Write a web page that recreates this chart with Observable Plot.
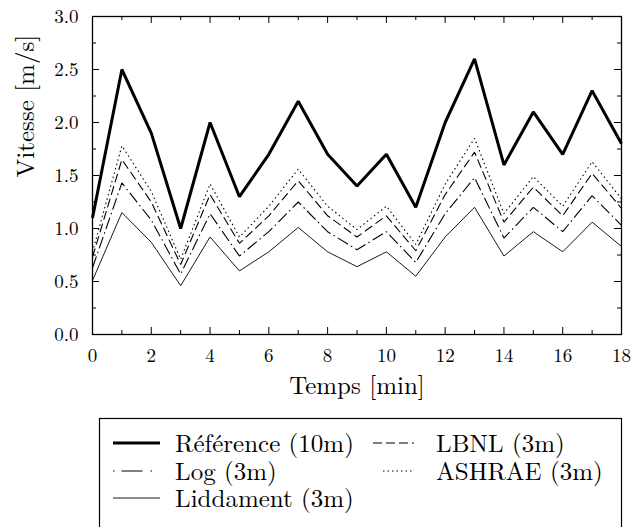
<!DOCTYPE html>
<html><head><meta charset="utf-8">
<script src="https://cdn.jsdelivr.net/npm/d3@7"></script>
<script src="https://cdn.jsdelivr.net/npm/@observablehq/plot@0.6"></script>
<style>
body{margin:0;background:#fff;}
#chart svg{display:block;}
</style></head><body><div id="chart"></div><script>
// ---- data ----
const temps      = [0,1,2,3,4,5,6,7,8,9,10,11,12,13,14,15,16,17,18];
const reference  = [1.10,2.50,1.90,1.00,2.00,1.30,1.70,2.20,1.70,1.40,1.70,1.20,2.00,2.60,1.60,2.10,1.70,2.30,1.80];
const lbnl       = [0.73,1.65,1.25,0.66,1.32,0.86,1.12,1.45,1.12,0.92,1.12,0.79,1.32,1.72,1.06,1.39,1.12,1.52,1.19];
const logLaw     = [0.63,1.43,1.08,0.57,1.14,0.74,0.97,1.25,0.97,0.80,0.97,0.68,1.14,1.48,0.91,1.20,0.97,1.31,1.03];
const ashrae     = [0.78,1.78,1.35,0.71,1.42,0.92,1.21,1.56,1.21,0.99,1.21,0.85,1.42,1.85,1.14,1.49,1.21,1.63,1.28];
const liddament  = [0.51,1.15,0.87,0.46,0.92,0.60,0.78,1.01,0.78,0.64,0.78,0.55,0.92,1.20,0.74,0.97,0.78,1.06,0.83];
const seriesNames = ["Référence (10m)","LBNL (3m)","Log (3m)","ASHRAE (3m)","Liddament (3m)"];
const xMajorTicks = [0,2,4,6,8,10,12,14,16,18];
const xMinorTicks = [1,3,5,7,9,11,13,15,17];
const yMajorTicks = [0,0.5,1,1.5,2,2.5,3];
const yMinorTicks = [0.25,0.75,1.25,1.75,2.25,2.75];
const xLabel = "Temps [min]";
const yLabel = "Vitesse [m/s]";

// ---- styles ----
const styles = {
  "Référence (10m)": {strokeWidth: 3,   dash: null,             legendDash: null},
  "LBNL (3m)":       {strokeWidth: 1.1, dash: "9,4",            legendDash: "9,4"},
  "Log (3m)":        {strokeWidth: 1.1, dash: "12,3.5,1.5,3.5", legendDash: "1.5,7,21,8,1.5,40"},
  "ASHRAE (3m)":     {strokeWidth: 1.1, dash: "1.5,3",          legendDash: "1.5,3"},
  "Liddament (3m)":  {strokeWidth: 0.9, dash: null,             legendDash: null}
};
const seriesValues = [reference, lbnl, logLaw, ashrae, liddament];
const rows = [];
seriesNames.forEach((name, k) => temps.forEach((t, i) => rows.push({series: name, t, v: seriesValues[k][i]})));

const W = 632, H = 400, mL = 92, mR = 11, mT = 16, mB = 66;
const innerW = W - mL - mR, innerH = H - mT - mB;
const FONT = "Latin Modern Roman, CMU Serif, serif";

const lineMarks = seriesNames.map(name => Plot.line(rows.filter(d => d.series === name), {
  x: "t", y: "v", stroke: "#000", strokeWidth: styles[name].strokeWidth,
  strokeDasharray: styles[name].dash, strokeLinejoin: "miter", strokeLinecap: "butt"
}));

const tickLenMajor = 7, tickLenMinor = 4;
const plot = Plot.plot({
  width: W, height: H,
  marginLeft: mL, marginRight: mR, marginTop: mT, marginBottom: mB,
  style: {fontFamily: FONT, fontSize: "19px", color: "#000", background: "#fff"},
  x: {domain: [0, 18]},
  y: {domain: [0, 3]},
  marks: [
    ...lineMarks,
    // inward ticks on all four sides
    Plot.tickX(xMajorTicks, {x: d => d, insetTop: innerH - tickLenMajor, stroke: "#000"}),
    Plot.tickX(xMajorTicks, {x: d => d, insetBottom: innerH - tickLenMajor, stroke: "#000"}),
    Plot.tickX(xMinorTicks, {x: d => d, insetTop: innerH - tickLenMinor, stroke: "#000"}),
    Plot.tickX(xMinorTicks, {x: d => d, insetBottom: innerH - tickLenMinor, stroke: "#000"}),
    Plot.tickY(yMajorTicks, {y: d => d, insetRight: innerW - tickLenMajor, stroke: "#000"}),
    Plot.tickY(yMajorTicks, {y: d => d, insetLeft: innerW - tickLenMajor, stroke: "#000"}),
    Plot.tickY(yMinorTicks, {y: d => d, insetRight: innerW - tickLenMinor, stroke: "#000"}),
    Plot.tickY(yMinorTicks, {y: d => d, insetLeft: innerW - tickLenMinor, stroke: "#000"}),
    Plot.frame({stroke: "#000", strokeWidth: 1.3}),
    Plot.axisX(xMajorTicks, {tickSize: 0, tickPadding: 14, tickFormat: d3.format("d"), label: null, fontSize: 19, fill: "#000"}),
    Plot.axisY(yMajorTicks, {tickSize: 0, tickPadding: 14, tickFormat: d3.format(".1f"), label: null, fontSize: 19, fill: "#000"}),
    Plot.text([xLabel], {frameAnchor: "bottom", lineAnchor: "middle", dy: 51, fontSize: 25, text: d => d, fill: "#000"}),
    Plot.text([yLabel], {frameAnchor: "left", lineAnchor: "middle", dx: -67, dy: 2, rotate: -90, fontSize: 25, text: d => d, fill: "#000"})
  ]
});
document.getElementById("chart").appendChild(plot);

// ---- legend below the plot ----
const legendPos = [
  {col: 0, row: 0}, {col: 1, row: 0},
  {col: 0, row: 1}, {col: 1, row: 1},
  {col: 0, row: 2}
];
const colSample = [[113, 160], [373, 414]];
const colText = [175, 436];
const rowLine = [43, 71, 98];
const lg = d3.select("#chart").append("svg")
  .attr("width", W).attr("height", 527 - H)
  .style("font-family", FONT);
lg.append("rect").attr("x", 99.5).attr("y", 18.5).attr("width", 522).attr("height", 140)
  .attr("fill", "none").attr("stroke", "#000").attr("stroke-width", 1.2);
seriesNames.forEach((name, k) => {
  const p = legendPos[k];
  const s = styles[name];
  const x1 = colSample[p.col][0] + (name === "ASHRAE (3m)" ? 10 : 0);
  lg.append("line")
    .attr("x1", x1).attr("x2", colSample[p.col][1])
    .attr("y1", rowLine[p.row]).attr("y2", rowLine[p.row])
    .attr("stroke", "#000").attr("stroke-width", s.strokeWidth)
    .attr("stroke-dasharray", s.legendDash);
  lg.append("text")
    .attr("x", colText[p.col]).attr("y", rowLine[p.row] + 9)
    .attr("font-size", 25).attr("fill", "#000")
    .text(name);
});
</script></body></html>
